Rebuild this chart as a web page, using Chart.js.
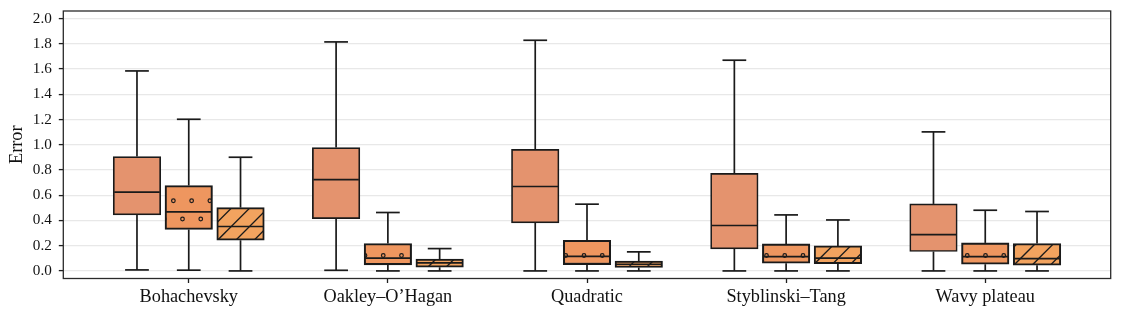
<!DOCTYPE html>
<html>
<head>
<meta charset="utf-8">
<script src="https://cdn.jsdelivr.net/npm/chart.js@4/dist/chart.umd.min.js"></script>
<style>
  html, body { margin: 0; padding: 0; background: #ffffff; }
  #wrap { width: 1122px; height: 317px; position: relative; }
</style>
</head>
<body>
<div id="wrap"><canvas id="c"></canvas></div>
<script>
// ---- data ----
const categories = ['Bohachevsky', 'Oakley\u2013O\u2019Hagan', 'Quadratic', 'Styblinski\u2013Tang', 'Wavy plateau'];
// each entry: [lower whisker, Q1, median, Q3, upper whisker]
const seriesA = [
  [0.008, 0.444, 0.624, 0.906, 1.585],
  [0.005, 0.415, 0.724, 0.978, 1.815],
  [0.000, 0.380, 0.669, 0.964, 1.828],
  [0.000, 0.174, 0.360, 0.774, 1.670],
  [0.000, 0.154, 0.288, 0.531, 1.102]
];
const seriesB = [
  [0.006, 0.328, 0.468, 0.677, 1.202],
  [0.000, 0.048, 0.101, 0.217, 0.463],
  [0.000, 0.050, 0.116, 0.243, 0.529],
  [0.000, 0.061, 0.114, 0.214, 0.444],
  [0.000, 0.053, 0.114, 0.222, 0.481]
];
const seriesC = [
  [0.000, 0.243, 0.352, 0.502, 0.901],
  [0.000, 0.029, 0.064, 0.093, 0.177],
  [0.000, 0.027, 0.053, 0.079, 0.151],
  [0.000, 0.058, 0.101, 0.198, 0.404],
  [0.000, 0.045, 0.098, 0.217, 0.471]
];
const yTicks = [0.0, 0.2, 0.4, 0.6, 0.8, 1.0, 1.2, 1.4, 1.6, 1.8, 2.0];
const yTitle = 'Error';

// ---- styling ----
const offsets = [-0.26, 0, 0.26];
const colors = ['#E4936E', '#EE965F', '#F2A35F'];
const ink = '#1a1a1a';
const font = "'Liberation Serif', 'Times New Roman', serif";

function dotPattern(base) {
  const c = document.createElement('canvas');
  c.width = 73; c.height = 146;
  const g = c.getContext('2d');
  g.fillStyle = base; g.fillRect(0, 0, 73, 146);
  g.strokeStyle = ink; g.lineWidth = 1.2;
  const sx = 18.25, sy = 36.5;
  for (let i = -1; i <= 5; i++) {
    for (let j = -1; j <= 5; j++) {
      [[i * sx, j * sy], [i * sx + sx / 2, j * sy + sy / 2]].forEach(([x, y]) => {
        g.beginPath(); g.arc(x, y, 1.8, 0, Math.PI * 2); g.stroke();
      });
    }
  }
  return g.createPattern(c, 'repeat');
}
function slashPattern(base) {
  const c = document.createElement('canvas');
  c.width = 73; c.height = 73;
  const g = c.getContext('2d');
  g.fillStyle = base; g.fillRect(0, 0, 73, 73);
  g.strokeStyle = ink; g.lineWidth = 1.3;
  for (let k = -6; k <= 14; k++) {
    const C = 1.5 + 18.25 * k;
    g.beginPath(); g.moveTo(C + 20, -20); g.lineTo(C - 120, 120); g.stroke();
  }
  return g.createPattern(c, 'repeat');
}

const allSeries = [seriesA, seriesB, seriesC];
const fills = [colors[0], dotPattern(colors[1]), slashPattern(colors[2])];
const borderWidths = [1.7, 2.1, 2];

const datasets = allSeries.map((s, j) => ({
  data: s.map((v, i) => ({ x: i + offsets[j], y: [v[1], v[3]] })),
  backgroundColor: fills[j],
  borderColor: ink,
  borderWidth: borderWidths[j],
  borderSkipped: false,
  barThickness: 47.5,
  grouped: false
}));

const boxParts = {
  id: 'boxParts',
  afterDatasetsDraw(chart) {
    const ctx = chart.ctx;
    const ys = chart.scales.y;
    const line = (x1, y1, x2, y2) => { ctx.beginPath(); ctx.moveTo(x1, y1); ctx.lineTo(x2, y2); ctx.stroke(); };
    ctx.save();
    ctx.strokeStyle = ink;
    ctx.lineWidth = 1.7;
    allSeries.forEach((s, j) => {
      const meta = chart.getDatasetMeta(j);
      s.forEach((v, i) => {
        const el = meta.data[i];
        const x = el.x, w = el.width;
        const yLo = ys.getPixelForValue(v[0]);
        const yQ1 = ys.getPixelForValue(v[1]);
        const yMed = ys.getPixelForValue(v[2]);
        const yQ3 = ys.getPixelForValue(v[3]);
        const yHi = ys.getPixelForValue(v[4]);
        line(x, yQ3, x, yHi);
        line(x, yQ1, x, yLo);
        line(x - w / 4, yHi, x + w / 4, yHi);
        line(x - w / 4, yLo, x + w / 4, yLo);
        line(x - w / 2 + 1, yMed, x + w / 2 - 1, yMed);
      });
    });
    const a = chart.chartArea;
    ctx.strokeStyle = '#2a2a2a';
    ctx.lineWidth = 1.3;
    ctx.strokeRect(a.left, a.top, a.right - a.left, a.bottom - a.top);
    ctx.restore();
  }
};

new Chart(document.getElementById('c'), {
  type: 'bar',
  data: { datasets },
  plugins: [boxParts],
  options: {
    responsive: true,
    maintainAspectRatio: false,
    animation: false,
    layout: { padding: { left: 0, right: 11.3, top: 11, bottom: 0 } },
    plugins: { legend: { display: false }, tooltip: { enabled: false } },
    scales: {
      x: {
        type: 'linear',
        min: -0.63,
        max: 4.63,
        offset: false,
        afterBuildTicks: (axis) => { axis.ticks = categories.map((c, i) => ({ value: i })); },
        afterFit: (axis) => { axis.height = 38.5; axis.paddingLeft = 0; axis.paddingRight = 0; },
        ticks: {
          callback: (value) => categories[Math.round(value)],
          font: { family: font, size: 18.25 },
          color: '#111111',
          padding: 3,
          maxRotation: 0,
          autoSkip: false
        },
        grid: { offset: false, drawOnChartArea: false, drawTicks: true, tickLength: 4.5, tickColor: '#1f1f1f', tickWidth: 1.3 },
        border: { display: false }
      },
      y: {
        type: 'linear',
        min: -0.06,
        max: 2.06,
        afterBuildTicks: (axis) => { axis.ticks = yTicks.map((v) => ({ value: v })); },
        afterFit: (axis) => { axis.width = 63.3; axis.paddingTop = 0; axis.paddingBottom = 0; },
        ticks: {
          callback: (value) => Number(value).toFixed(1),
          font: { family: font, size: 15.2 },
          color: '#111111',
          padding: 7
        },
        grid: { color: '#e8e8e8', lineWidth: 1.2, drawTicks: true, tickLength: 4.5, tickColor: '#1f1f1f', tickWidth: 1.3 },
        border: { display: false },
        title: {
          display: true,
          text: yTitle,
          font: { family: font, size: 18.25 },
          color: '#111111',
          padding: { top: 6, bottom: 0 }
        }
      }
    }
  }
});
</script>
</body>
</html>
